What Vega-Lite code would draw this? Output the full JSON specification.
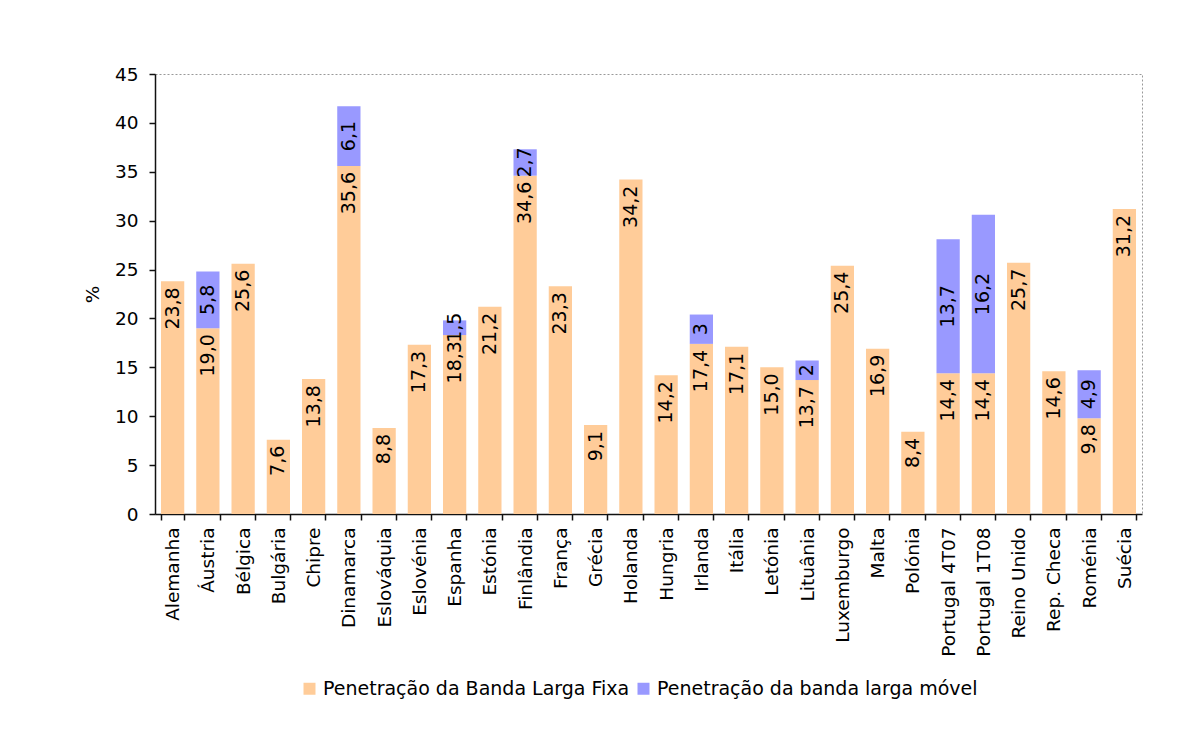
{
  "$schema": "https://vega.github.io/schema/vega-lite/v6.json",
  "width": 987,
  "height": 440,
  "autosize": {"type": "none"},
  "padding": {"left": 155, "top": 74, "right": 48, "bottom": 233},
  "background": "white",
  "config": {
    "font": "DejaVu Sans",
    "view": {"stroke": "#999999", "strokeDash": [2, 2], "strokeWidth": 1},
    "axis": {
      "domainColor": "#111111",
      "domainWidth": 1.5,
      "tickColor": "#111111",
      "tickWidth": 1.5,
      "labelColor": "#000000",
      "labelFont": "DejaVu Sans",
      "labelFontSize": 18.5,
      "grid": false
    },
    "text": {"font": "DejaVu Sans"}
  },
  "data": {
    "values": [
      {"country": "Alemanha", "series": "Penetração da Banda Larga Fixa", "value": 23.8, "label": "23,8"},
      {"country": "Áustria", "series": "Penetração da Banda Larga Fixa", "value": 19.0, "label": "19,0"},
      {"country": "Áustria", "series": "Penetração da banda larga móvel", "value": 5.8, "label": "5,8"},
      {"country": "Bélgica", "series": "Penetração da Banda Larga Fixa", "value": 25.6, "label": "25,6"},
      {"country": "Bulgária", "series": "Penetração da Banda Larga Fixa", "value": 7.6, "label": "7,6"},
      {"country": "Chipre", "series": "Penetração da Banda Larga Fixa", "value": 13.8, "label": "13,8"},
      {"country": "Dinamarca", "series": "Penetração da Banda Larga Fixa", "value": 35.6, "label": "35,6"},
      {"country": "Dinamarca", "series": "Penetração da banda larga móvel", "value": 6.1, "label": "6,1"},
      {"country": "Eslováquia", "series": "Penetração da Banda Larga Fixa", "value": 8.8, "label": "8,8"},
      {"country": "Eslovénia", "series": "Penetração da Banda Larga Fixa", "value": 17.3, "label": "17,3"},
      {"country": "Espanha", "series": "Penetração da Banda Larga Fixa", "value": 18.3, "label": "18,3"},
      {"country": "Espanha", "series": "Penetração da banda larga móvel", "value": 1.5, "label": "1,5"},
      {"country": "Estónia", "series": "Penetração da Banda Larga Fixa", "value": 21.2, "label": "21,2"},
      {"country": "Finlândia", "series": "Penetração da Banda Larga Fixa", "value": 34.6, "label": "34,6"},
      {"country": "Finlândia", "series": "Penetração da banda larga móvel", "value": 2.7, "label": "2,7"},
      {"country": "França", "series": "Penetração da Banda Larga Fixa", "value": 23.3, "label": "23,3"},
      {"country": "Grécia", "series": "Penetração da Banda Larga Fixa", "value": 9.1, "label": "9,1"},
      {"country": "Holanda", "series": "Penetração da Banda Larga Fixa", "value": 34.2, "label": "34,2"},
      {"country": "Hungria", "series": "Penetração da Banda Larga Fixa", "value": 14.2, "label": "14,2"},
      {"country": "Irlanda", "series": "Penetração da Banda Larga Fixa", "value": 17.4, "label": "17,4"},
      {"country": "Irlanda", "series": "Penetração da banda larga móvel", "value": 3, "label": "3"},
      {"country": "Itália", "series": "Penetração da Banda Larga Fixa", "value": 17.1, "label": "17,1"},
      {"country": "Letónia", "series": "Penetração da Banda Larga Fixa", "value": 15.0, "label": "15,0"},
      {"country": "Lituânia", "series": "Penetração da Banda Larga Fixa", "value": 13.7, "label": "13,7"},
      {"country": "Lituânia", "series": "Penetração da banda larga móvel", "value": 2, "label": "2"},
      {"country": "Luxemburgo", "series": "Penetração da Banda Larga Fixa", "value": 25.4, "label": "25,4"},
      {"country": "Malta", "series": "Penetração da Banda Larga Fixa", "value": 16.9, "label": "16,9"},
      {"country": "Polónia", "series": "Penetração da Banda Larga Fixa", "value": 8.4, "label": "8,4"},
      {"country": "Portugal 4T07", "series": "Penetração da Banda Larga Fixa", "value": 14.4, "label": "14,4"},
      {"country": "Portugal 4T07", "series": "Penetração da banda larga móvel", "value": 13.7, "label": "13,7"},
      {"country": "Portugal 1T08", "series": "Penetração da Banda Larga Fixa", "value": 14.4, "label": "14,4"},
      {"country": "Portugal 1T08", "series": "Penetração da banda larga móvel", "value": 16.2, "label": "16,2"},
      {"country": "Reino Unido", "series": "Penetração da Banda Larga Fixa", "value": 25.7, "label": "25,7"},
      {"country": "Rep. Checa", "series": "Penetração da Banda Larga Fixa", "value": 14.6, "label": "14,6"},
      {"country": "Roménia", "series": "Penetração da Banda Larga Fixa", "value": 9.8, "label": "9,8"},
      {"country": "Roménia", "series": "Penetração da banda larga móvel", "value": 4.9, "label": "4,9"},
      {"country": "Suécia", "series": "Penetração da Banda Larga Fixa", "value": 31.2, "label": "31,2"}
    ]
  },
  "encoding": {
    "x": {
      "field": "country",
      "type": "nominal",
      "sort": null,
      "scale": {"paddingInner": 0.34, "paddingOuter": 0.17},
      "axis": {
        "title": null,
        "labelAngle": -90,
        "tickBand": "extent",
        "tickSize": 6,
        "labelPadding": 7
      }
    }
  },
  "layer": [
    {
      "mark": {"type": "bar"},
      "encoding": {
        "y": {
          "field": "value",
          "type": "quantitative",
          "stack": "zero",
          "scale": {"domain": [0, 45], "nice": false},
          "axis": {
            "values": [0, 5, 10, 15, 20, 25, 30, 35, 40, 45],
            "title": "%",
            "titleFont": "DejaVu Sans",
            "titleFontSize": 18.5,
            "titleFontWeight": "normal",
            "titleColor": "#000000",
            "titlePadding": 12,
            "tickSize": 6,
            "labelPadding": 11
          }
        },
        "color": {
          "field": "series",
          "type": "nominal",
          "scale": {
            "domain": ["Penetração da Banda Larga Fixa", "Penetração da banda larga móvel"],
            "range": ["#FFCC99", "#9999FF"]
          },
          "legend": {
            "orient": "none",
            "legendX": 145,
            "legendY": 605,
            "direction": "horizontal",
            "title": null,
            "symbolType": "square",
            "symbolSize": 144,
            "symbolStrokeWidth": 0,
            "labelFont": "DejaVu Sans",
            "labelFontSize": 19,
            "labelColor": "#000000",
            "labelLimit": 500,
            "labelOffset": 4,
            "columnPadding": 4
          }
        },
        "order": {"field": "series"}
      }
    },
    {
      "transform": [{"filter": "datum.series === 'Penetração da Banda Larga Fixa'"}],
      "mark": {"type": "text", "angle": 270, "align": "right", "baseline": "middle", "dx": -6, "fontSize": 19, "color": "#000000"},
      "encoding": {
        "y": {"field": "value", "type": "quantitative"},
        "text": {"field": "label"}
      }
    },
    {
      "mark": {"type": "text", "angle": 270, "align": "center", "baseline": "middle", "fontSize": 19, "color": "#000000"},
      "encoding": {
        "y": {"field": "value", "type": "quantitative", "stack": "zero", "bandPosition": 0.5},
        "detail": {"field": "series"},
        "order": {"field": "series"},
        "text": {"field": "label"},
        "opacity": {
          "condition": {"test": "datum.series === 'Penetração da banda larga móvel'", "value": 1},
          "value": 0
        }
      }
    }
  ]
}
